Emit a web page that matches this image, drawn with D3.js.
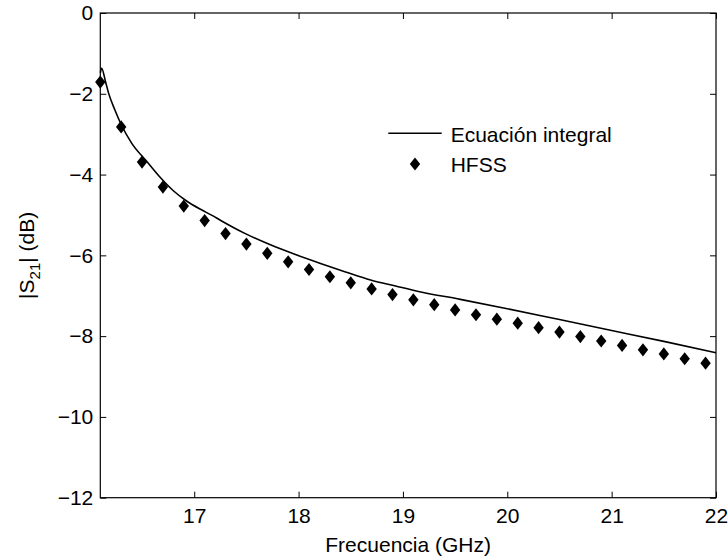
<!DOCTYPE html>
<html>
<head>
<meta charset="utf-8">
<script src="https://cdn.jsdelivr.net/npm/d3@7"></script>
<style>
  html, body { margin: 0; padding: 0; background: #fff; }
  svg { display: block; font-family: "Liberation Sans", Arial, Helvetica, sans-serif; }
</style>
</head>
<body>
<svg id="chart" width="728" height="559"></svg>
<script>
// Integral-equation solution for |S21| (dB) vs frequency (GHz)
const lineFreq = [16.100, 16.113, 16.15, 16.18, 16.24, 16.30, 16.40, 16.54, 16.66, 16.80,
                  16.93, 17.06, 17.17, 17.25, 17.48, 17.73, 17.97, 18.21, 18.45, 18.69,
                  18.93, 19.16, 19.55, 20.00, 20.50, 21.00, 21.50, 22.00];
const lineS21  = [-1.48, -1.37, -1.70, -1.99, -2.40, -2.76, -3.22, -3.66, -4.03, -4.40,
                  -4.66, -4.86, -5.01, -5.13, -5.45, -5.74, -5.98, -6.20, -6.41, -6.61,
                  -6.76, -6.90, -7.09, -7.32, -7.59, -7.86, -8.13, -8.41];

// HFSS simulation samples
const hfssFreq = [16.1, 16.3, 16.5, 16.7, 16.9, 17.1, 17.3, 17.5, 17.7, 17.9,
                  18.1, 18.3, 18.5, 18.7, 18.9, 19.1, 19.3, 19.5, 19.7, 19.9,
                  20.1, 20.3, 20.5, 20.7, 20.9, 21.1, 21.3, 21.5, 21.7, 21.9];
const hfssS21  = [-1.71, -2.82, -3.69, -4.31, -4.78, -5.14, -5.46, -5.72, -5.95, -6.16,
                  -6.35, -6.53, -6.68, -6.83, -6.97, -7.10, -7.22, -7.35, -7.47, -7.58,
                  -7.68, -7.79, -7.90, -8.01, -8.12, -8.23, -8.34, -8.44, -8.56, -8.67];

const xTicks = [17, 18, 19, 20, 21, 22];
const yTicks = [0, -2, -4, -6, -8, -10, -12];
const legendLabels = ["Ecuación integral", "HFSS"];

const W = 728, H = 559;
const margin = { left: 100.3, top: 13, right: 12, bottom: 61.3 };
const fontSize = 21;

const svg = d3.select("#chart");

const x = d3.scaleLinear().domain([16.1, 22]).range([margin.left, W - margin.right]);
const y = d3.scaleLinear().domain([-12, 0]).range([H - margin.bottom, margin.top]);

const fmt = d3.format("d");
const tickLen = 6;

// Plot box
svg.append("rect")
  .attr("x", x.range()[0]).attr("y", y.range()[1])
  .attr("width", x.range()[1] - x.range()[0])
  .attr("height", y.range()[0] - y.range()[1])
  .attr("fill", "none").attr("stroke", "#000").attr("stroke-width", 1.2);

// Inward ticks on all four sides
const bottomAxis = d3.axisBottom(x).tickValues(xTicks).tickSize(-tickLen).tickPadding(10).tickFormat(fmt);
const topAxis = d3.axisTop(x).tickValues(xTicks).tickSize(-tickLen).tickFormat("");
const leftAxis = d3.axisLeft(y).tickValues(yTicks).tickSize(-tickLen).tickPadding(7).tickFormat(fmt);
const rightAxis = d3.axisRight(y).tickValues(yTicks).tickSize(-tickLen).tickFormat("");

function styleAxis(g) {
  g.select(".domain").remove();
  g.selectAll(".tick line").attr("stroke", "#000").attr("stroke-width", 1);
  g.selectAll(".tick text").attr("fill", "#000")
    .style("font-size", fontSize + "px")
    .style("font-family", '"Liberation Sans", Arial, Helvetica, sans-serif');
}

svg.append("g").attr("transform", `translate(0,${y.range()[0]})`).call(bottomAxis).call(styleAxis);
svg.append("g").attr("transform", `translate(0,${y.range()[1]})`).call(topAxis).call(styleAxis);
svg.append("g").attr("transform", `translate(${x.range()[0]},0)`).call(leftAxis).call(styleAxis);
svg.append("g").attr("transform", `translate(${x.range()[1]},0)`).call(rightAxis).call(styleAxis);

// Axis titles
svg.append("text")
  .attr("x", (x.range()[0] + x.range()[1]) / 2)
  .attr("y", 552)
  .attr("text-anchor", "middle")
  .style("font-size", fontSize + "px")
  .text("Frecuencia (GHz)");

const yTitle = svg.append("text")
  .attr("transform", `translate(33.5,${(y.range()[0] + y.range()[1]) / 2}) rotate(-90)`)
  .attr("text-anchor", "middle")
  .style("font-size", fontSize + "px");
yTitle.append("tspan").text("|S");
yTitle.append("tspan").attr("dy", 6).style("font-size", "15px").text("21");
yTitle.append("tspan").attr("dy", -6).text("| (dB)");

// Diamond marker path
const diamond = (hw, hh) => `M0,${-hh}L${hw},0L0,${hh}L${-hw},0Z`;

// Clip to the plot area
svg.append("clipPath").attr("id", "plotClip")
  .append("rect")
  .attr("x", x.range()[0]).attr("y", y.range()[1] - 10)
  .attr("width", x.range()[1] - x.range()[0] + 10)
  .attr("height", y.range()[0] - y.range()[1] + 20);

const plot = svg.append("g");

// Integral-equation curve
const lineData = lineFreq.map((f, i) => [f, lineS21[i]]);
plot.append("path")
  .datum(lineData)
  .attr("fill", "none")
  .attr("stroke", "#000")
  .attr("stroke-width", 1.6)
  .attr("stroke-linejoin", "round")
  .attr("d", d3.line().x(d => x(d[0])).y(d => y(d[1])).curve(d3.curveMonotoneX));

// HFSS markers
plot.selectAll("path.hfss")
  .data(hfssFreq.map((f, i) => [f, hfssS21[i]]))
  .join("path")
  .attr("class", "hfss")
  .attr("transform", d => `translate(${x(d[0])},${y(d[1])})`)
  .attr("d", diamond(5.2, 6.6))
  .attr("fill", "#000");

// Legend (no frame)
const legend = svg.append("g").style("font-size", fontSize + "px");
legend.append("line")
  .attr("x1", 388.3).attr("x2", 441.7)
  .attr("y1", 133.3).attr("y2", 133.3)
  .attr("stroke", "#000").attr("stroke-width", 1.6);
legend.append("text").attr("x", 450.7).attr("y", 141.5).text(legendLabels[0]);
legend.append("path")
  .attr("transform", "translate(415,164)")
  .attr("d", diamond(5.2, 6.6))
  .attr("fill", "#000");
legend.append("text").attr("x", 450.7).attr("y", 171.5).text(legendLabels[1]);
</script>
</body>
</html>
